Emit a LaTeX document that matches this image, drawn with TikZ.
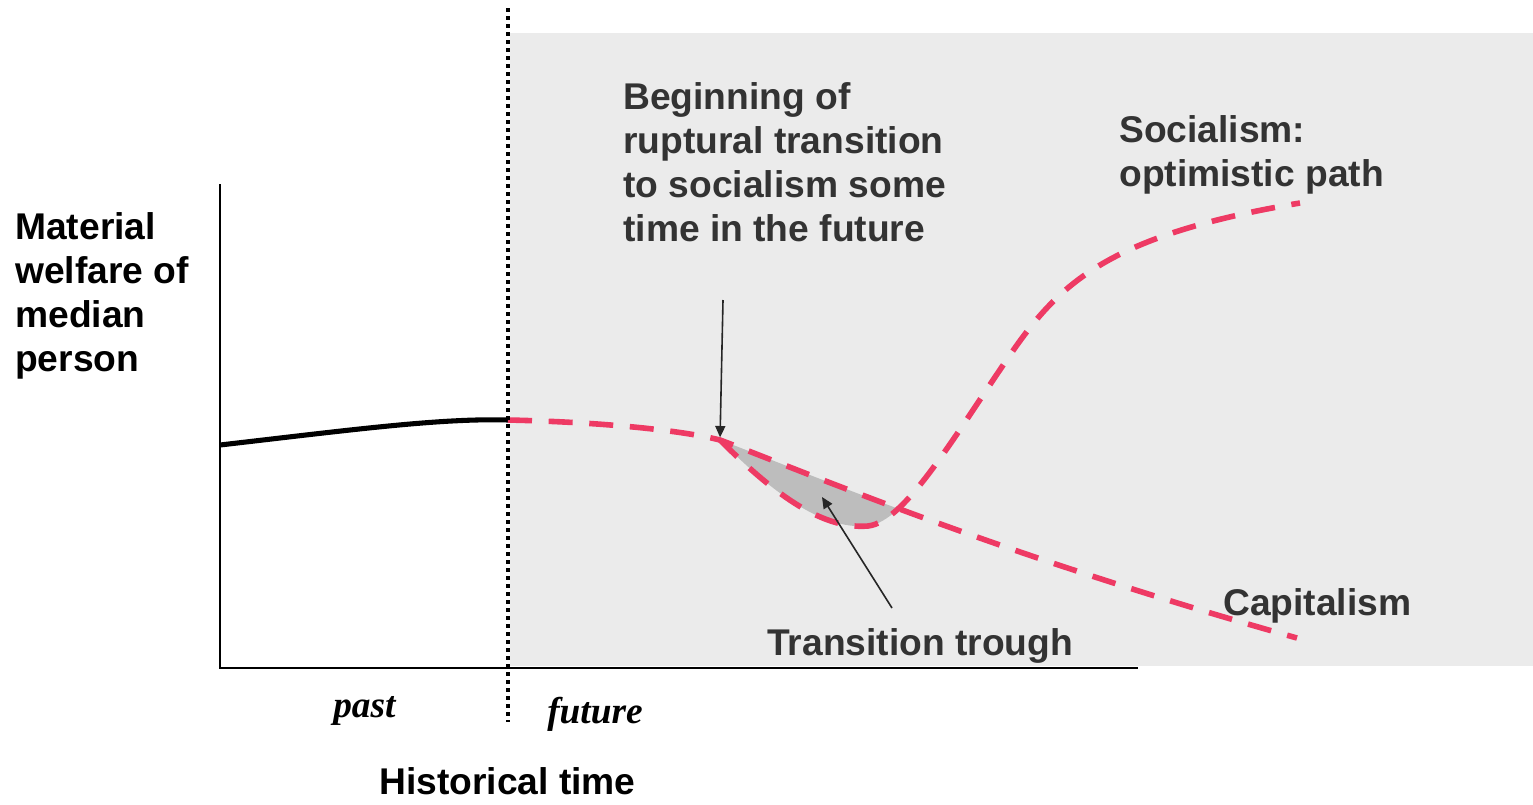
\documentclass[tikz,border=0pt]{standalone}
\usepackage{fontspec}
\setmainfont{Liberation Serif}
\setsansfont{Liberation Sans}
\usetikzlibrary{arrows.meta}
\definecolor{bgray}{HTML}{EBEBEB}
\definecolor{redd}{HTML}{EE3A64}
\definecolor{troughc}{HTML}{BDBDBD}
\definecolor{txt}{HTML}{333333}
\tikzset{
  lab/.style={font=\sffamily\bfseries\fontsize{27.9}{33}\selectfont, inner sep=0pt, anchor=north west, align=left, text=txt},
  labs/.style={font=\sffamily\bfseries\fontsize{27.9}{33}\selectfont, inner sep=0pt, anchor=base west, text=txt},
  ital/.style={font=\rmfamily\bfseries\itshape\fontsize{28}{33}\selectfont, inner sep=0pt, anchor=base west, text=black},
  axisline/.style={line width=1.6pt, black},
  blackcurve/.style={line width=3.8pt, black},
  reddash/.style={line width=4.2pt, redd, dash pattern=on 18pt off 12.5pt},
  dotline/.style={line width=3pt, black, dash pattern=on 3pt off 3pt},
  arr/.style={line width=1.2pt, black!85, -{Triangle[length=8.5pt,width=7.5pt]}}
}
\begin{document}
\begin{tikzpicture}[x=0.75pt,y=-0.75pt]
\useasboundingbox (0,0) rectangle (1533,804);
\fill[bgray] (510,33) rectangle (1533,666);
\draw[axisline] (220,184) -- (220,668) -- (1138,668);
% key points
\coordinate (start) at (220,445);
\coordinate (now) at (508,420);
\coordinate (branch) at (720,440);
\coordinate (capend) at (1297,638);
\coordinate (lowpt) at (868,526);
\coordinate (cross) at (898.6,508.9);
\coordinate (infl) at (1010,355);
\coordinate (socend) at (1300,203);
\coordinate (arrtop) at (723,300);
\coordinate (arrbot) at (892,608);
\coordinate (troughin) at (822,497);
% trough fill
\fill[troughc] (branch) .. controls (770,490) and (820,530) .. (lowpt)
  .. controls (877.25,525) and (887.31,518.8) .. (cross)
  .. controls (816.3,478.1) and (756,453.5) .. (branch) -- cycle;
% curves
\draw[blackcurve] (start) .. controls (350,430) and (440,418) .. (now);
\draw[reddash] (now) .. controls (600,422) and (680,430) .. (branch)
  .. controls (800,470) and (1000,555) .. (capend);
\draw[reddash] (branch) .. controls (770,490) and (820,530) .. (lowpt)
  .. controls (905,522) and (955,435) .. (infl)
  .. controls (1060,282) and (1110,235) .. (socend);
\draw[dotline] (508,8) -- (508,722);
% arrows
\draw[arr, shorten >=2pt] (arrtop) -- (branch);
\draw[arr] (arrbot) -- (troughin);
% labels
\node[lab, text=black] (ylab) at (15,212.3) {Material\\welfare of\\median\\person};
\node[lab] (begin) at (623,82) {Beginning of\\ruptural transition\\to socialism some\\time in the future};
\node[lab] (soc) at (1119,115.5) {Socialism:\\optimistic path};
\node[labs] (cap) at (1223,615) {Capitalism};
\node[labs] (trl) at (767,655) {Transition trough};
\node[labs, text=black] (xlab) at (379,794) {Historical time};
\node[ital] (past) at (333,717) {past};
\node[ital] (fut) at (547,723) {future};
\end{tikzpicture}
\end{document}
